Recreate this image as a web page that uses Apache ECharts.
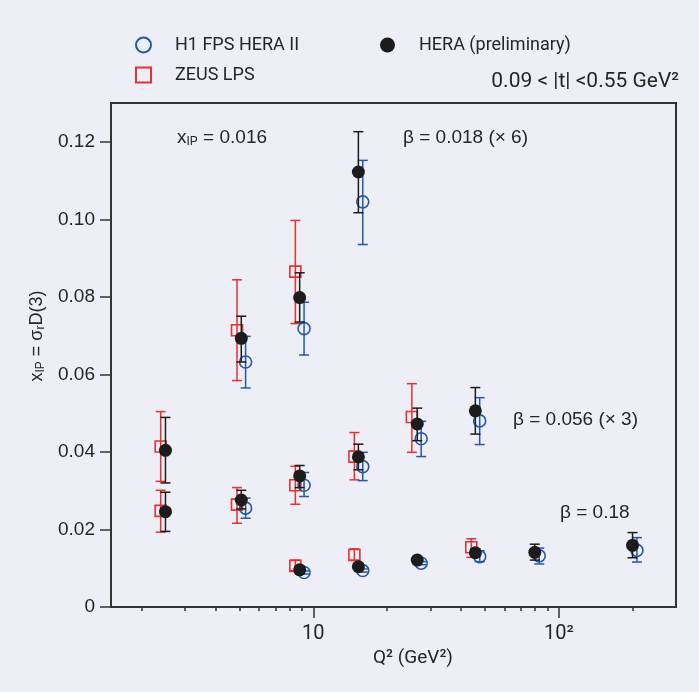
<!DOCTYPE html>
<html><head><meta charset="utf-8">
<script src="https://cdn.jsdelivr.net/npm/echarts@6/dist/echarts.min.js"></script>
<style>html,body{margin:0;padding:0;background:#edeef6}#c{width:699px;height:692px}</style>
</head><body><div id="c"></div>
<script>
// ---- tick values ----
const xMajorTicks = [10, 100];
const xMinorTicks = [2, 3, 4, 5, 6, 7, 8, 9, 20, 30, 40, 50, 60, 70, 80, 90, 200];
const yTicks = [0, 0.02, 0.04, 0.06, 0.08, 0.10, 0.12];

// ---- ZEUS LPS ----
const zeusQ2 = [2.39, 2.39, 4.89, 4.89, 8.45, 8.45, 8.45, 14.7, 14.7, 25.2, 44];
const zeusVal = [0.0414, 0.0248, 0.0714, 0.0264, 0.0865, 0.0314, 0.0106, 0.0388, 0.0134, 0.0490, 0.0154];
const zeusLo = [0.0324, 0.0193, 0.0584, 0.0216, 0.0731, 0.0265, 0.0094, 0.0328, 0.0121, 0.0399, 0.0128];
const zeusHi = [0.0504, 0.0301, 0.0844, 0.0308, 0.0997, 0.0363, 0.0121, 0.0450, 0.0150, 0.0576, 0.0176];

// ---- H1 FPS HERA II ----
const h1Q2 = [5.3, 5.3, 9.17, 9.17, 9.17, 15.9, 15.9, 15.9, 27.5, 27.5, 47.6, 47.6, 83.2, 208];
const h1Val = [0.0632, 0.0255, 0.0718, 0.0314, 0.0089, 0.1045, 0.0362, 0.0094, 0.0434, 0.0113, 0.0480, 0.0130, 0.0132, 0.0146];
const h1Lo = [0.0565, 0.0229, 0.0650, 0.0285, 0.0085, 0.0935, 0.0326, 0.0090, 0.0388, 0.0109, 0.0419, 0.0117, 0.0111, 0.0116];
const h1Hi = [0.0698, 0.0281, 0.0786, 0.0347, 0.0093, 0.1152, 0.0399, 0.0098, 0.0479, 0.0117, 0.0540, 0.0145, 0.0152, 0.0179];

// ---- HERA (preliminary) ----
const heraQ2 = [2.5, 2.5, 5.09, 5.09, 8.8, 8.8, 8.8, 15.26, 15.26, 15.26, 26.5, 26.5, 45.7, 45.7, 79.8, 199.6];
const heraVal = [0.0404, 0.0246, 0.0693, 0.0276, 0.0798, 0.0338, 0.0096, 0.1122, 0.0387, 0.0104, 0.0472, 0.0121, 0.0506, 0.0140, 0.0141, 0.0159];
const heraLo = [0.0320, 0.0195, 0.0632, 0.0253, 0.0735, 0.0308, 0.0090, 0.1017, 0.0354, 0.0098, 0.0429, 0.0115, 0.0446, 0.0130, 0.0121, 0.0127];
const heraHi = [0.0489, 0.0296, 0.0750, 0.0301, 0.0862, 0.0365, 0.0102, 0.1226, 0.0420, 0.0110, 0.0513, 0.0127, 0.0566, 0.0150, 0.0162, 0.0192];

const BLUE = '#2459a8', RED = '#e8302f', BLACK = '#1c1c1c', AXIS = '#333333', TXT = '#262626';
const NARROW = 'Roboto, "Liberation Sans", Arial, sans-serif';
const REG = '"Liberation Sans", Arial, sans-serif';

const pts = (q, v) => q.map((x, i) => [x, v[i]]);
const errs = (q, lo, hi) => q.map((x, i) => [x, lo[i], hi[i]]);

function errRender(color) {
  return function (params, api) {
    const x = api.value(0);
    const top = api.coord([x, api.value(2)]);
    const bot = api.coord([x, api.value(1)]);
    const hw = 5;
    const style = { stroke: color, lineWidth: 1.5, fill: null };
    return {
      type: 'group',
      children: [
        { type: 'line', shape: { x1: top[0], y1: top[1], x2: bot[0], y2: bot[1] }, style },
        { type: 'line', shape: { x1: top[0] - hw, y1: top[1], x2: top[0] + hw, y2: top[1] }, style },
        { type: 'line', shape: { x1: bot[0] - hw, y1: bot[1], x2: bot[0] + hw, y2: bot[1] }, style }
      ]
    };
  };
}

const chart = echarts.init(document.getElementById('c'), null, { renderer: 'canvas' });
const subRich = { sub: { fontSize: 12, padding: [9, 0, 0, 0], fontFamily: REG, color: TXT } };

chart.setOption({
  backgroundColor: '#edeef6',
  animation: false,
  grid: { left: 111, right: 23, top: 103, bottom: 85, show: true, borderColor: AXIS, borderWidth: 2, backgroundColor: 'transparent' },
  legend: [
    {
      orient: 'vertical', left: 130, top: 30, itemWidth: 15, itemHeight: 15, itemGap: 10,
      textStyle: { fontFamily: NARROW, fontSize: 18, lineHeight: 20, color: TXT, padding: [0, 0, 0, 19] },
      data: [
        { name: 'H1 FPS HERA II', icon: 'circle', itemStyle: { color: 'rgba(0,0,0,0)', borderColor: BLUE, borderWidth: 2 } },
        { name: 'ZEUS LPS', icon: 'rect', itemStyle: { color: 'rgba(0,0,0,0)', borderColor: RED, borderWidth: 2 } }
      ]
    },
    {
      orient: 'vertical', left: 375, top: 30, itemWidth: 15, itemHeight: 15,
      textStyle: { fontFamily: NARROW, fontSize: 18, lineHeight: 20, color: TXT, padding: [0, 0, 0, 19] },
      data: [{ name: 'HERA (preliminary)', icon: 'circle', itemStyle: { color: BLACK } }]
    }
  ],
  xAxis: [
    {
      type: 'log', logBase: 10, min: 1.5, max: 300,
      axisLine: { show: true, onZero: false, lineStyle: { color: AXIS, width: 2 } },
      axisTick: { show: true, inside: false, length: 11, customValues: xMajorTicks, lineStyle: { color: AXIS, width: 1.5 } },
      axisLabel: {
        customValues: xMajorTicks, margin: 17, color: TXT, fontFamily: NARROW, fontSize: 20,
        formatter: v => (Math.abs(v - 10) < 1e-6 ? '10' : '10²')
      },
      splitLine: { show: false }, minorTick: { show: false },
      name: 'Q² (GeV²)', nameLocation: 'middle', nameGap: 42,
      nameTextStyle: { fontFamily: NARROW, fontSize: 19, color: TXT, padding: [0, 0, 0, 39] }
    },
    {
      type: 'log', logBase: 10, min: 1.5, max: 300, position: 'bottom',
      axisLine: { show: false },
      axisTick: { show: true, inside: false, length: 4, customValues: xMinorTicks, lineStyle: { color: AXIS, width: 1.5 } },
      axisLabel: { show: false }, splitLine: { show: false }
    }
  ],
  yAxis: {
    type: 'value', min: 0, max: 0.13,
    axisLine: { show: true, lineStyle: { color: AXIS, width: 2 } },
    axisTick: { show: true, inside: false, length: 11, customValues: yTicks, lineStyle: { color: AXIS, width: 1.5 } },
    axisLabel: {
      customValues: yTicks, margin: 16, color: TXT, fontFamily: REG, fontSize: 19,
      formatter: v => (v === 0 ? '0' : v.toFixed(2))
    },
    splitLine: { show: false },
    name: 'x{sub|IP} = σ{sub|r}D(3)', nameLocation: 'middle', nameRotate: 90, nameGap: 62,
    nameTextStyle: { fontFamily: REG, fontSize: 18, color: TXT, padding: [0, 0, 0, 38], rich: subRich }
  },
  graphic: [
    { type: 'text', left: 177, top: 128, style: { text: 'x{sub|IP} = 0.016', font: '19px ' + REG, fill: TXT, rich: subRich } },
    { type: 'text', left: 403, top: 128, style: { text: 'β = 0.018 (× 6)', font: '19px ' + REG, fill: TXT } },
    { type: 'text', left: 513, top: 410, style: { text: 'β = 0.056 (× 3)', font: '19px ' + REG, fill: TXT } },
    { type: 'text', left: 560, top: 503, style: { text: 'β = 0.18', font: '19px ' + REG, fill: TXT } },
    { type: 'text', right: 20, top: 71, style: { text: '0.09 < |t| <0.55 GeV²', font: '21px ' + NARROW, fill: TXT } }
  ],
  series: [
    { name: 'ZEUS err', type: 'custom', renderItem: errRender(RED), data: errs(zeusQ2, zeusLo, zeusHi), encode: { x: 0, y: [1, 2] }, z: 2 },
    { name: 'ZEUS LPS', type: 'scatter', symbol: 'rect', symbolSize: 11, data: pts(zeusQ2, zeusVal),
      itemStyle: { color: 'rgba(0,0,0,0)', borderColor: RED, borderWidth: 1.6, opacity: 1 }, z: 3 },
    { name: 'H1 err', type: 'custom', renderItem: errRender(BLUE), data: errs(h1Q2, h1Lo, h1Hi), encode: { x: 0, y: [1, 2] }, z: 4 },
    { name: 'H1 FPS HERA II', type: 'scatter', symbol: 'circle', symbolSize: 12, data: pts(h1Q2, h1Val),
      itemStyle: { color: 'rgba(0,0,0,0)', borderColor: BLUE, borderWidth: 1.6, opacity: 1 }, z: 5 },
    { name: 'HERA err', type: 'custom', renderItem: errRender(BLACK), data: errs(heraQ2, heraLo, heraHi), encode: { x: 0, y: [1, 2] }, z: 6 },
    { name: 'HERA (preliminary)', type: 'scatter', symbol: 'circle', symbolSize: 13, data: pts(heraQ2, heraVal),
      itemStyle: { color: BLACK, opacity: 1 }, z: 7 }
  ]
});
</script></body></html>
